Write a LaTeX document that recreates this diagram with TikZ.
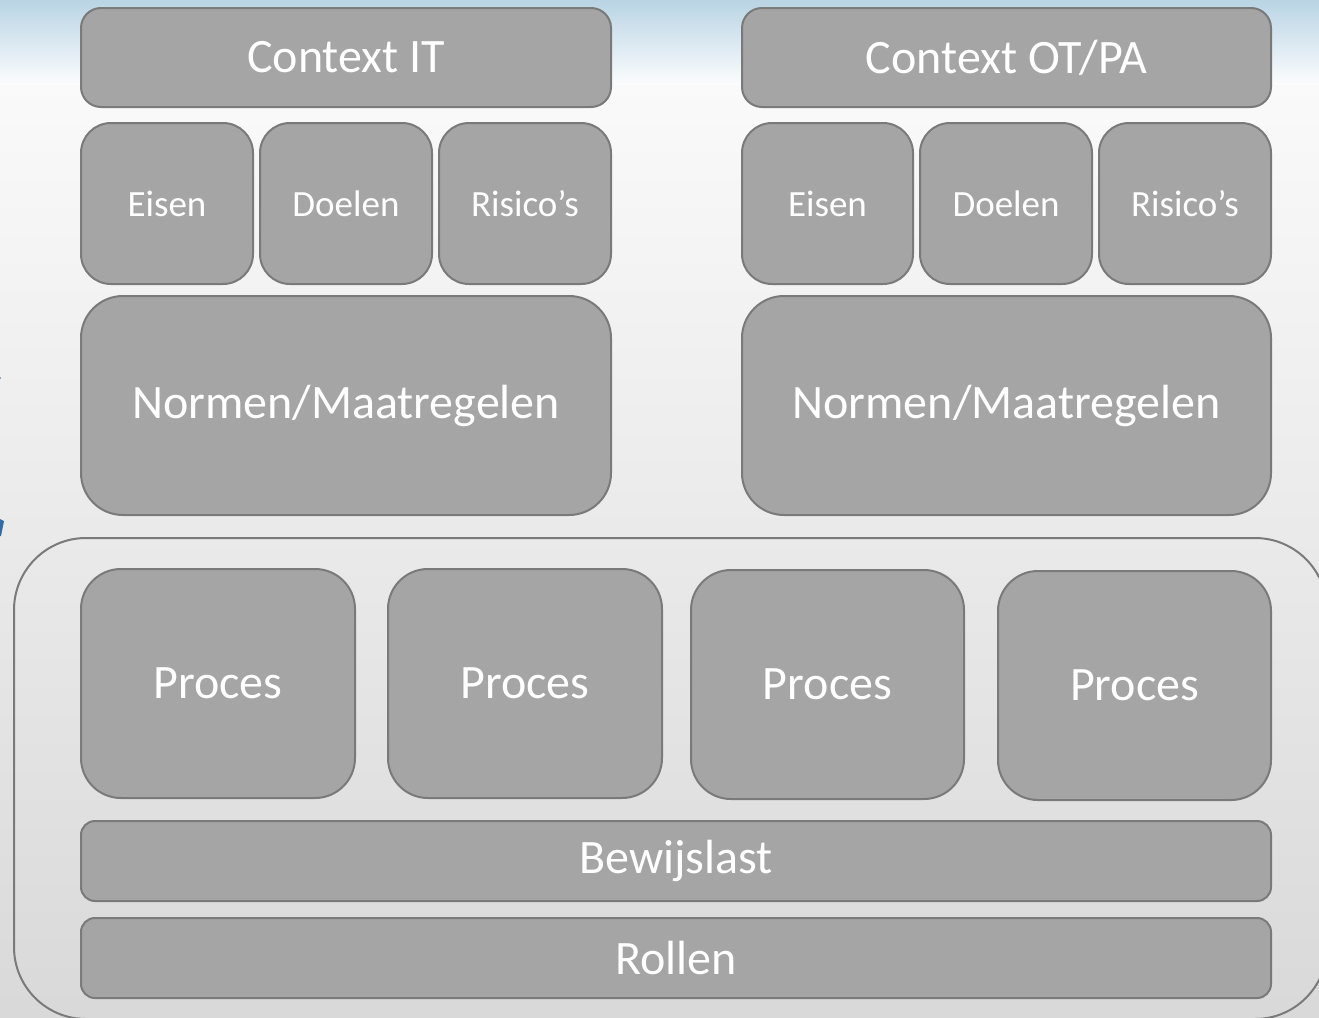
\documentclass[tikz,border=0pt]{standalone}
\usepackage{fontspec}
\setmainfont{Carlito}
\usepackage{tikz}
\usetikzlibrary{positioning}

\definecolor{blokgrijs}{HTML}{A5A5A5}
\definecolor{randgrijs}{HTML}{7A7A7A}
\definecolor{luchtblauw}{HTML}{B9D4E4}
\definecolor{pijlblauw}{HTML}{2F6CA8}

\tikzset{
  blok/.style = {draw=randgrijs, line width=2pt, fill=blokgrijs, text=white,
                 anchor=north west, inner sep=0pt, rounded corners=#1},
  blok/.default = 20pt
}
\newcommand{\maat}[1]{\fontsize{#1}{#1}\selectfont}

\begin{document}
\begin{tikzpicture}[x=1pt, y=-1pt]

      \useasboundingbox (0,0) rectangle (1319,1017);

      % achtergrond
      \fill[top color=luchtblauw, bottom color=white!95!luchtblauw] (0,0) rectangle (1319,85);
      \fill[top color=white!98!black, bottom color=white!85!black] (0,85) rectangle (1319,1017);
      \fill[pijlblauw] (0,519) -- (4,521) -- (1,536) -- (0,536) -- cycle;
      \fill[pijlblauw!60] (0,377) rectangle (1,379);

      % bovenste helft: IT en OT/PA
      \node[blok, minimum width=530pt, minimum height=99pt] (ctxit) at (80,7) {\maat{48}Context IT};
      \node[blok, minimum width=529pt, minimum height=99pt] (ctxot) at (741,7) {\maat{48}Context OT/PA};

      \node[blok=30pt, minimum width=172pt, minimum height=161pt] (eisenit) at (80,122) {\maat{37}Eisen};
      \node[blok=30pt, minimum width=172pt, minimum height=161pt] (doelenit) at (259,122) {\maat{37}Doelen};
      \node[blok=30pt, minimum width=172pt, minimum height=161pt] (risicoit) at (438,122) {\maat{37}Risico’s};

      \node[blok=30pt, minimum width=171pt, minimum height=161pt] (eisenot) at (741,122) {\maat{37}Eisen};
      \node[blok=30pt, minimum width=172pt, minimum height=161pt] (doelenot) at (919,122) {\maat{37}Doelen};
      \node[blok=30pt, minimum width=172pt, minimum height=161pt] (risicoot) at (1098,122) {\maat{37}Risico’s};

      \node[blok=42pt, minimum width=530pt, minimum height=219pt] (normenit) at (80,295) {\maat{48}Normen/Maatregelen};
      \node[blok=42pt, minimum width=529pt, minimum height=219pt] (normenot) at (741,295) {\maat{48}Normen/Maatregelen};

      % onderste helft
      \draw[randgrijs, line width=2pt, rounded corners=72pt] (14,538) rectangle (1327,1019);

      \node[blok=40pt, minimum width=274pt, minimum height=229pt] (proces1) at (80,568) {\maat{48}Proces};
      \node[blok=40pt, minimum width=274pt, minimum height=229pt] (proces2) at (387,568) {\maat{48}Proces};
      \node[blok=40pt, minimum width=273pt, minimum height=229pt] (proces3) at (690,569) {\maat{48}Proces};
      \node[blok=40pt, minimum width=273pt, minimum height=229pt] (proces4) at (997,570) {\maat{48}Proces};

      \node[blok=14pt, minimum width=1190pt, minimum height=80pt] (bewijs) at (80,820) {\maat{48}Bewijslast};
      \node[blok=14pt, minimum width=1190pt, minimum height=80pt] (rollen) at (80,917) {\maat{48}Rollen};

    \end{tikzpicture}
\end{document}
